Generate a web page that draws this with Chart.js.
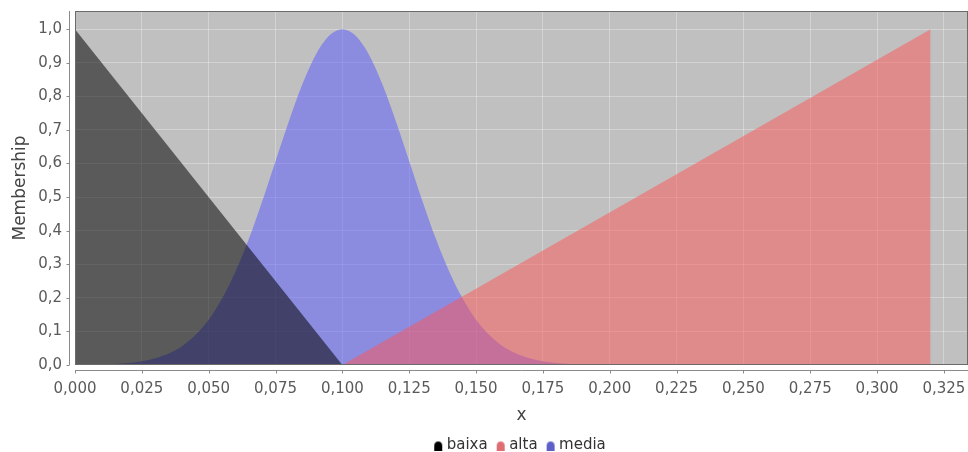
<!DOCTYPE html>
<html>
<head>
<meta charset="utf-8">
<script src="https://cdn.jsdelivr.net/npm/chart.js@4"></script>
<style>
  html, body { margin: 0; padding: 0; background: #fff; }
  #wrap { width: 968px; height: 452px; }
</style>
</head>
<body>
<div id="wrap"><canvas id="chart" width="968" height="452"></canvas></div>
<script>
// values
const seriesNames = ['baixa', 'alta', 'media'];

const baixaX = [0, 0.1];
const baixaY = [1, 0];

const altaX = [0.1, 0.32, 0.32];
const altaY = [0, 1, 0];

const mediaX = [0, 0.005, 0.01, 0.015, 0.02, 0.025, 0.03, 0.035, 0.04, 0.045,
  0.05, 0.055, 0.06, 0.065, 0.07, 0.075, 0.08, 0.085, 0.09, 0.095, 0.1,
  0.105, 0.11, 0.115, 0.12, 0.125, 0.13, 0.135, 0.14, 0.145, 0.15,
  0.155, 0.16, 0.165, 0.17, 0.175, 0.18, 0.185, 0.19, 0.195, 0.2];
const mediaY = [0, 0.001, 0.002, 0.003, 0.006, 0.011, 0.020, 0.034, 0.056, 0.089,
  0.135, 0.198, 0.278, 0.375, 0.487, 0.607, 0.726, 0.835, 0.923, 0.980, 1.0,
  0.980, 0.923, 0.835, 0.726, 0.607, 0.487, 0.375, 0.278, 0.198, 0.135,
  0.089, 0.056, 0.034, 0.020, 0.011, 0.006, 0.003, 0.002, 0.001, 0];

const xMin = 0, xMax = 0.334, xStep = 0.025;
const yMin = 0, yMax = 1.054, yStep = 0.1;

const toPoints = (xs, ys) => xs.map((x, i) => ({ x, y: ys[i] }));

function domeIcon(color) {
  const c = document.createElement('canvas');
  c.width = 10; c.height = 10;
  const g = c.getContext('2d');
  g.fillStyle = color;
  g.beginPath();
  g.moveTo(1, 10);
  g.lineTo(1, 5.5);
  g.quadraticCurveTo(1, 1, 5, 1);
  g.quadraticCurveTo(9, 1, 9, 5.5);
  g.lineTo(9, 10);
  g.closePath();
  g.fill();
  return c;
}

const plotFrame = {
  id: 'plotFrame',
  afterLayout(chart) {
    // legend sits under the plot centre, like the x title
    const a = chart.chartArea, lg = chart.legend;
    const d = (a.left + a.right) / 2 - (lg.left + lg.right) / 2;
    lg.left += d;
    lg.right += d;
  },
  beforeDraw(chart) {
    const { ctx, chartArea: a } = chart;
    ctx.save();
    ctx.fillStyle = '#c0c0c0';
    ctx.fillRect(a.left, a.top, a.right - a.left, a.bottom - a.top);
    ctx.restore();
  },
  afterDraw(chart) {
    const { ctx, chartArea: a, scales } = chart;
    ctx.save();
    ctx.strokeStyle = '#6b6b6b';
    ctx.lineWidth = 1;
    ctx.strokeRect(a.left + 0.5, a.top + 0.5, a.right - a.left - 1, a.bottom - a.top - 1);
    // offset axis lines
    ctx.strokeStyle = '#8a8a8a';
    ctx.beginPath();
    const ay = a.bottom + 5.5;
    ctx.moveTo(a.left, ay); ctx.lineTo(a.right, ay);
    scales.x.ticks.forEach(t => {
      const px = Math.round(scales.x.getPixelForValue(t.value)) + 0.5;
      ctx.moveTo(px, ay); ctx.lineTo(px, ay + 3);
    });
    const ax = a.left - 5.5;
    ctx.moveTo(ax, a.top); ctx.lineTo(ax, a.bottom);
    scales.y.ticks.forEach(t => {
      const py = Math.round(scales.y.getPixelForValue(t.value)) + 0.5;
      ctx.moveTo(ax, py); ctx.lineTo(ax - 3, py);
    });
    ctx.stroke();
    ctx.restore();
  }
};

const font = 'DejaVu Sans';

new Chart(document.getElementById('chart'), {
  type: 'line',
  data: {
    datasets: [
      {
        label: seriesNames[0],
        data: toPoints(baixaX, baixaY),
        backgroundColor: 'rgba(0,0,0,0.53)',
        borderWidth: 0,
        fill: 'origin',
        pointRadius: 0,
        pointStyle: domeIcon('#000000')
      },
      {
        label: seriesNames[1],
        data: toPoints(altaX, altaY),
        backgroundColor: 'rgba(255,85,85,0.5)',
        borderWidth: 0,
        fill: 'origin',
        pointRadius: 0,
        pointStyle: domeIcon('rgb(222,110,115)')
      },
      {
        label: seriesNames[2],
        data: toPoints(mediaX, mediaY),
        backgroundColor: 'rgba(85,85,255,0.5)',
        borderWidth: 0,
        fill: 'origin',
        cubicInterpolationMode: 'monotone',
        pointRadius: 0,
        pointStyle: domeIcon('rgb(95,95,200)')
      }
    ]
  },
  options: {
    responsive: false,
    animation: false,
    layout: { padding: { top: 11, right: 0, left: 0, bottom: 0 } },
    plugins: {
      tooltip: { enabled: false },
      legend: {
        position: 'bottom',
        maxHeight: 26,
        labels: {
          usePointStyle: true,
          pointStyleWidth: 2,
          padding: 12,
          color: '#333',
          font: { family: font, size: 15 }
        }
      }
    },
    scales: {
      x: {
        type: 'linear',
        min: xMin,
        max: xMax,
        afterFit: s => { s.height = 61; s.paddingLeft = 0; s.paddingRight = 0; },
        border: { display: false },
        grid: { color: 'rgba(255,255,255,0.3)', tickLength: 8, tickColor: 'transparent' },
        ticks: {
          stepSize: xStep,
          includeBounds: false,
          maxRotation: 0,
          autoSkip: false,
          padding: 7,
          color: '#5a5a5a',
          font: { family: font, size: 15 },
          callback: v => v.toFixed(3).replace('.', ',')
        },
        title: {
          display: true,
          text: 'x',
          color: '#444',
          padding: { top: 4, bottom: 0 },
          font: { family: font, size: 17 }
        }
      },
      y: {
        min: yMin,
        max: yMax,
        afterFit: s => { s.width = 75; s.paddingTop = 0; s.paddingBottom = 0; },
        border: { display: false },
        grid: { color: 'rgba(255,255,255,0.3)', tickLength: 8, tickColor: 'transparent' },
        ticks: {
          stepSize: yStep,
          includeBounds: false,
          autoSkip: false,
          padding: 5,
          color: '#5a5a5a',
          font: { family: font, size: 15 },
          callback: v => v.toFixed(1).replace('.', ',')
        },
        title: {
          display: true,
          text: 'Membership',
          color: '#444',
          padding: { top: 10, bottom: 0 },
          font: { family: font, size: 17 }
        }
      }
    }
  },
  plugins: [plotFrame]
});
</script>
</body>
</html>
